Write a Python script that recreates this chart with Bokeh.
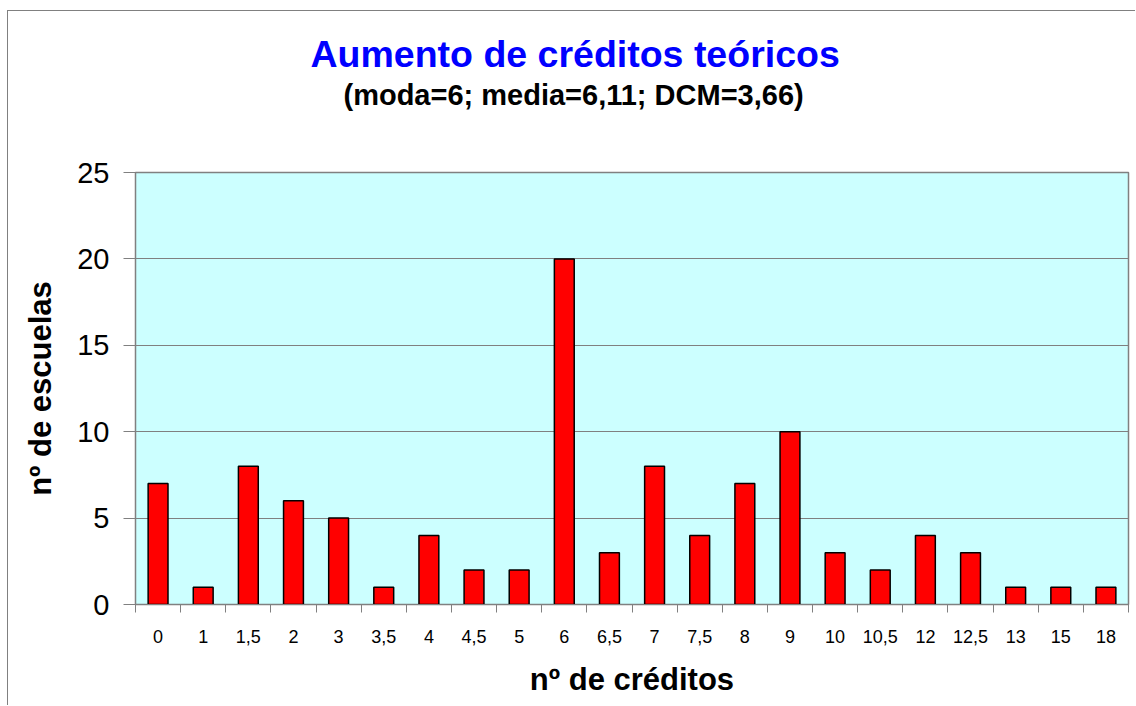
from bokeh.plotting import figure
from bokeh.models import FixedTicker, Title, Range1d
from bokeh.embed import file_html
from bokeh.resources import INLINE

categories = ["0", "1", "1,5", "2", "3", "3,5", "4", "4,5", "5", "6", "6,5",
              "7", "7,5", "8", "9", "10", "10,5", "12", "12,5", "13", "15", "18"]
escuelas = [7, 1, 8, 6, 5, 1, 4, 2, 2, 20, 3, 8, 4, 7, 10, 3, 2, 4, 3, 1, 1, 1]
y_ticks = [0, 5, 10, 15, 20, 25]

title_text = "Aumento de créditos teóricos"
subtitle_text = "(moda=6; media=6,11; DCM=3,66)"
FONT = "Liberation Sans"

TOP = 10  # page y of the outer border line
W, H = 1128, 706 - TOP - 1
p = figure(width=W, height=H, output_backend="svg", toolbar_location=None,
           x_range=Range1d(-0.5, len(categories) - 0.5), y_range=Range1d(0, 25),
           min_border_left=127, min_border_right=8,
           min_border_top=172 - TOP - 1, min_border_bottom=102)
p.styles = {"border-top": "1px solid #808080", "border-left": "1px solid #808080",
            "margin-left": "7px", "margin-top": f"{TOP}px"}

p.background_fill_color = "#CCFFFF"
p.border_fill_color = "white"
p.outline_line_color = "#808080"
p.outline_line_width = 1.5

xs = list(range(len(categories)))
p.vbar(x=xs, top=escuelas, width=0.44, bottom=0, fill_color="#FF0000",
       line_color="#000000", line_width=1.5)

# x axis
xa = p.xaxis[0]
xa.ticker = FixedTicker(ticks=xs, minor_ticks=[i - 0.5 for i in range(len(categories) + 1)])
xa.major_label_overrides = {i: c for i, c in enumerate(categories)}
xa.major_tick_out = 0
xa.major_tick_in = 0
xa.minor_tick_out = 8
xa.minor_tick_in = 0
xa.minor_tick_line_color = "#808080"
xa.axis_line_color = "#808080"
xa.major_label_text_font = FONT
xa.major_label_text_font_size = "18px"
xa.major_label_text_color = "#000000"
xa.major_label_standoff = 17
xa.axis_label = "nº de créditos"
xa.axis_label_text_font = FONT
xa.axis_label_text_font_style = "bold"
xa.axis_label_text_font_size = "31px"
xa.axis_label_text_color = "#000000"
xa.axis_label_standoff = 16

# y axis
ya = p.yaxis[0]
ya.ticker = FixedTicker(ticks=y_ticks)
ya.major_tick_out = 12
ya.major_tick_in = 0
ya.minor_tick_out = 0
ya.minor_tick_in = 0
ya.major_tick_line_color = "#808080"
ya.axis_line_color = "#808080"
ya.major_label_text_font = FONT
ya.major_label_text_font_size = "29px"
ya.major_label_text_color = "#000000"
ya.major_label_standoff = 14
ya.axis_label = "nº de escuelas"
ya.axis_label_text_font = FONT
ya.axis_label_text_font_style = "bold"
ya.axis_label_text_font_size = "31px"
ya.axis_label_text_color = "#000000"
ya.axis_label_standoff = 16

p.xgrid.visible = False
p.ygrid.ticker = FixedTicker(ticks=y_ticks)
p.ygrid.grid_line_color = "#808080"
p.ygrid.grid_line_width = 1

# spacer between the frame and the subtitle
p.add_layout(Title(text=" ", standoff=58, text_font=FONT, text_font_size="1px",
                   text_color="white"), "above")
p.add_layout(Title(text=subtitle_text, align="left", offset=208, standoff=2,
                   text_font=FONT, text_font_style="bold", text_font_size="29px",
                   text_color="#000000"), "above")
p.add_layout(Title(text=title_text, align="left", offset=175, standoff=2,
                   text_font=FONT, text_font_style="bold", text_font_size="37.5px",
                   text_color="#0000FF"), "above")

open("out.html", "w").write(file_html(p, INLINE))
